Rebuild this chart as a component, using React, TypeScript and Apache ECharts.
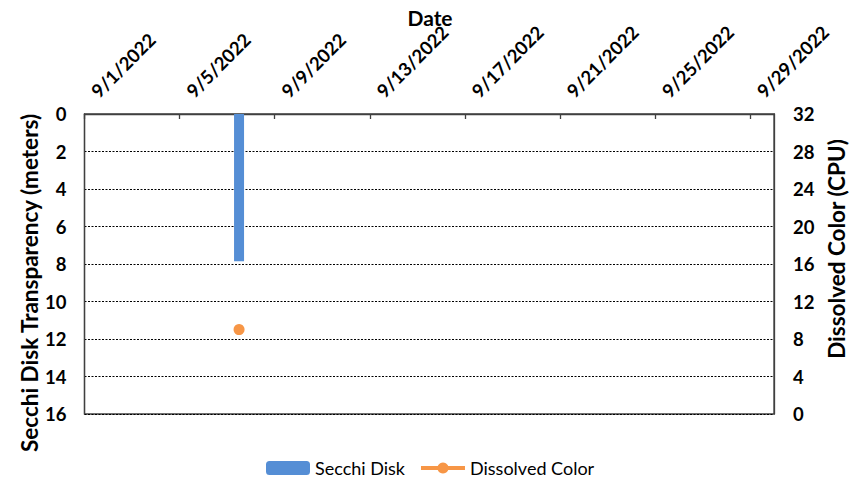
import React, { useEffect, useRef } from "react";
import * as echarts from "echarts";

// ---- data ----
const axisStartDate = "2022-09-01";
const axisEndDate = "2022-09-30";
const sampleDates = ["2022-09-07"];
const secchiDepth = [7.85]; // meters
const dissolvedColor = [9]; // CPU
const dateTickStepDays = 4;

const DAY = 86400000;
const startMs = Date.parse(axisStartDate + "T00:00:00Z");
const endMs = Date.parse(axisEndDate + "T00:00:00Z");
const dayIndex = (d: string) => (Date.parse(d + "T00:00:00Z") - startMs) / DAY;
const fmtDay = (v: number) => {
  const dt = new Date(startMs + v * DAY);
  return `${dt.getUTCMonth() + 1}/${dt.getUTCDate()}/${dt.getUTCFullYear()}`;
};

const FONT = "Lato, 'Open Sans', sans-serif";

export default function App() {
  const ref = useRef<HTMLDivElement>(null);
  useEffect(() => {
    if (!ref.current) return;
    const chart = echarts.init(ref.current, undefined, { renderer: "svg" });
    // Excel date axis "between tick marks": each day occupies a slot, mark at slot centre
    const barData = sampleDates.map((d, i) => [dayIndex(d) + 0.5, secchiDepth[i]]);
    const lineData = sampleDates.map((d, i) => [dayIndex(d) + 0.5, dissolvedColor[i]]);
    chart.setOption({
      animation: false,
      backgroundColor: "#ffffff",
      textStyle: { fontFamily: FONT },
      grid: {
        left: 84.5,
        right: 86,
        top: 114,
        bottom: 67,
        show: true,
        borderColor: "#404040",
        borderWidth: 1.3,
        containLabel: false,
      },
      xAxis: {
        type: "value",
        position: "top",
        min: 0,
        max: (endMs - startMs) / DAY,
        interval: dateTickStepDays,
        splitLine: { show: false },
        axisLine: { show: true, lineStyle: { color: "#404040", width: 1.3 } },
        axisTick: { show: true, inside: true, length: 5, lineStyle: { color: "#404040", width: 1.3 } },
        axisLabel: {
          rotate: 45,
          margin: 10,
          padding: [0, 0, 0, 14],
          showMaxLabel: false,
          color: "#000",
          fontFamily: FONT,
          fontWeight: "bold",
          fontSize: 18.5,
          formatter: (v: number) => (v % dateTickStepDays === 0 ? fmtDay(v) : ""),
        },
      },
      yAxis: [
        {
          type: "value",
          inverse: true,
          min: 0,
          max: 16,
          interval: 2,
          axisLine: { show: true, lineStyle: { color: "#404040", width: 1.3 } },
          axisTick: { show: false },
          splitLine: { show: true, lineStyle: { color: "#000", type: [2, 1.5], width: 1 } },
          axisLabel: {
            margin: 18,
            color: "#000",
            fontFamily: FONT,
            fontWeight: "bold",
            fontSize: 18.5,
          },
        },
        {
          type: "value",
          position: "right",
          min: 0,
          max: 32,
          interval: 4,
          axisLine: { show: true, lineStyle: { color: "#404040", width: 1.3 } },
          axisTick: { show: false },
          splitLine: { show: false },
          axisLabel: {
            margin: 19,
            color: "#000",
            fontFamily: FONT,
            fontWeight: "bold",
            fontSize: 18.5,
          },
        },
      ],
      legend: {
        left: 261,
        top: 454,
        itemWidth: 44,
        itemHeight: 14,
        itemGap: 14,
        textStyle: { fontFamily: FONT, fontSize: 18, color: "#000" },
        data: [
          { name: "Secchi Disk" },
          { name: "Dissolved Color", lineStyle: { width: 4, color: "#F79646" } },
        ],
      },
      series: [
        {
          name: "Secchi Disk",
          type: "bar",
          yAxisIndex: 0,
          barWidth: 10,
          itemStyle: { color: "#558ED5" },
          data: barData,
        },
        {
          name: "Dissolved Color",
          type: "line",
          yAxisIndex: 1,
          symbol: "circle",
          symbolSize: 11,
          itemStyle: { color: "#F79646" },
          lineStyle: { color: "#F79646", width: 4 },
          data: lineData,
        },
      ],
      graphic: [
        {
          type: "text",
          x: 430,
          y: 17,
          style: {
            text: "Date",
            align: "center",
            verticalAlign: "middle",
            font: `bold 21px ${FONT}`,
            fill: "#000",
          },
        },
        {
          type: "text",
          x: 29,
          y: 283,
          rotation: Math.PI / 2,
          style: {
            text: "Secchi Disk Transparency (meters)",
            align: "center",
            verticalAlign: "middle",
            font: `bold 22.5px ${FONT}`,
            fill: "#000",
          },
        },
        {
          type: "text",
          x: 836,
          y: 249,
          rotation: Math.PI / 2,
          style: {
            text: "Dissolved Color (CPU)",
            align: "center",
            verticalAlign: "middle",
            font: `bold 22.5px ${FONT}`,
            fill: "#000",
          },
        },
      ],
    });
    return () => chart.dispose();
  }, []);
  return (
    <div
      ref={ref}
      style={{ position: "fixed", left: 0, top: 0, width: 860, height: 481 }}
    />
  );
}
